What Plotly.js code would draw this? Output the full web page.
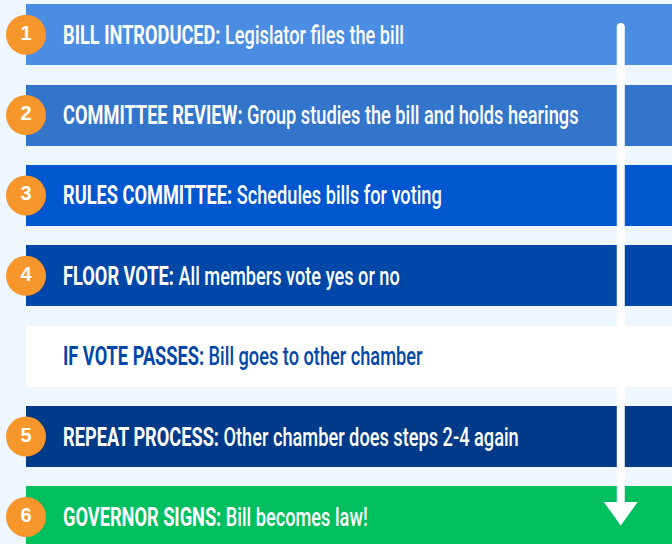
<!DOCTYPE html>
<html>
<head>
<meta charset="utf-8">
<script src="https://cdn.plot.ly/plotly-3.0.1.min.js"></script>
<style>
  html, body { margin: 0; padding: 0; background: #EEF6FE; }
  #chart { width: 672px; height: 544px; }
  /* emulate the tall condensed typeface of the reference */
  #chart text.annotation-text {
    transform-box: fill-box;
    transform-origin: left center;
    transform: scaleX(0.70);
  }
</style>
</head>
<body>
<div id="chart"></div>
<script>
// ---- data ----
const stepTitles = ["BILL INTRODUCED", "COMMITTEE REVIEW", "RULES COMMITTEE", "FLOOR VOTE", "IF VOTE PASSES", "REPEAT PROCESS", "GOVERNOR SIGNS"];
const stepDescriptions = ["Legislator files the bill", "Group studies the bill and holds hearings", "Schedules bills for voting", "All members vote yes or no", "Bill goes to other chamber", "Other chamber does steps 2-4 again", "Bill becomes law!"];
const stepNumbers = ["1", "2", "3", "4", null, "5", "6"];
const barLengths = [1, 1, 1, 1, 1, 1, 1];

// ---- styles ----
const barColors = ["#4A8DE3", "#3475CC", "#0057D0", "#0047A8", "#FFFFFF", "#003A88", "#00BF5F"];
const textColors = ["#FFFFFF", "#FFFFFF", "#FFFFFF", "#FFFFFF", "#0047AB", "#FFFFFF", "#FFFFFF"];
const bg = "#EEF6FE";
const labelFont = "Roboto, 'Liberation Sans', Arial, sans-serif";

const bars = {
  type: "bar",
  orientation: "h",
  y: stepTitles,
  x: barLengths,
  base: 0,
  width: 0.76,
  marker: { color: barColors, line: { width: 0 } },
  hoverinfo: "skip",
  showlegend: false
};

const circleY = stepTitles.filter((t, i) => stepNumbers[i] !== null);
const circleText = stepNumbers.filter(n => n !== null);
const circles = {
  type: "scatter",
  mode: "markers+text",
  x: circleY.map(() => 0),
  y: circleY,
  text: circleText,
  textposition: "middle center",
  textfont: { family: "'Liberation Sans', Arial, sans-serif", size: 20, color: "#FFFFFF", weight: "bold" },
  marker: { size: 40, color: "#F7962A", line: { width: 0 } },
  cliponaxis: false,
  hoverinfo: "skip",
  showlegend: false
};

const annotations = stepTitles.map((t, i) => ({
  x: 0, y: t, xref: "x", yref: "y",
  xanchor: "left", yanchor: "middle",
  xshift: 35,
  showarrow: false,
  text: "<b>" + t + ":</b> " + stepDescriptions[i],
  font: { family: labelFont, size: 26, color: textColors[i], weight: 500 }
}));

const layout = {
  width: 672, height: 544,
  margin: { l: 26, r: 0, t: 0, b: 0, pad: 0 },
  paper_bgcolor: bg,
  plot_bgcolor: bg,
  bargap: 0,
  xaxis: { range: [0, 1], visible: false, fixedrange: true },
  yaxis: { type: "category", range: [6.337, -0.432], visible: false, fixedrange: true },
  annotations: annotations,
  hovermode: false,
  shapes: [
    { type: "line", xref: "paper", yref: "paper", x0: 0.9207, x1: 0.9207, y0: 1 - 27 / 544, y1: 1 - 505 / 544,
      line: { color: "#FFFFFF", width: 8 }, layer: "above" },
    { type: "circle", xref: "paper", yref: "paper", xsizemode: "pixel", ysizemode: "pixel",
      xanchor: 0.9207, yanchor: 1 - 27 / 544, x0: -4, x1: 4, y0: -4, y1: 4,
      fillcolor: "#FFFFFF", line: { width: 0 }, layer: "above" },
    { type: "path", xref: "paper", yref: "paper",
      path: "M " + (0.9207 - 14 / 646) + "," + (1 - 503.5 / 544) +
            " L " + (0.9207 + 14 / 646) + "," + (1 - 503.5 / 544) +
            " L 0.9207," + (1 - 523 / 544) + " Z",
      fillcolor: "#FFFFFF", line: { color: "#FFFFFF", width: 3 }, layer: "above" }
  ]
};

Plotly.newPlot("chart", [bars, circles], layout, { staticPlot: true, displayModeBar: false });
</script>
</body>
</html>
